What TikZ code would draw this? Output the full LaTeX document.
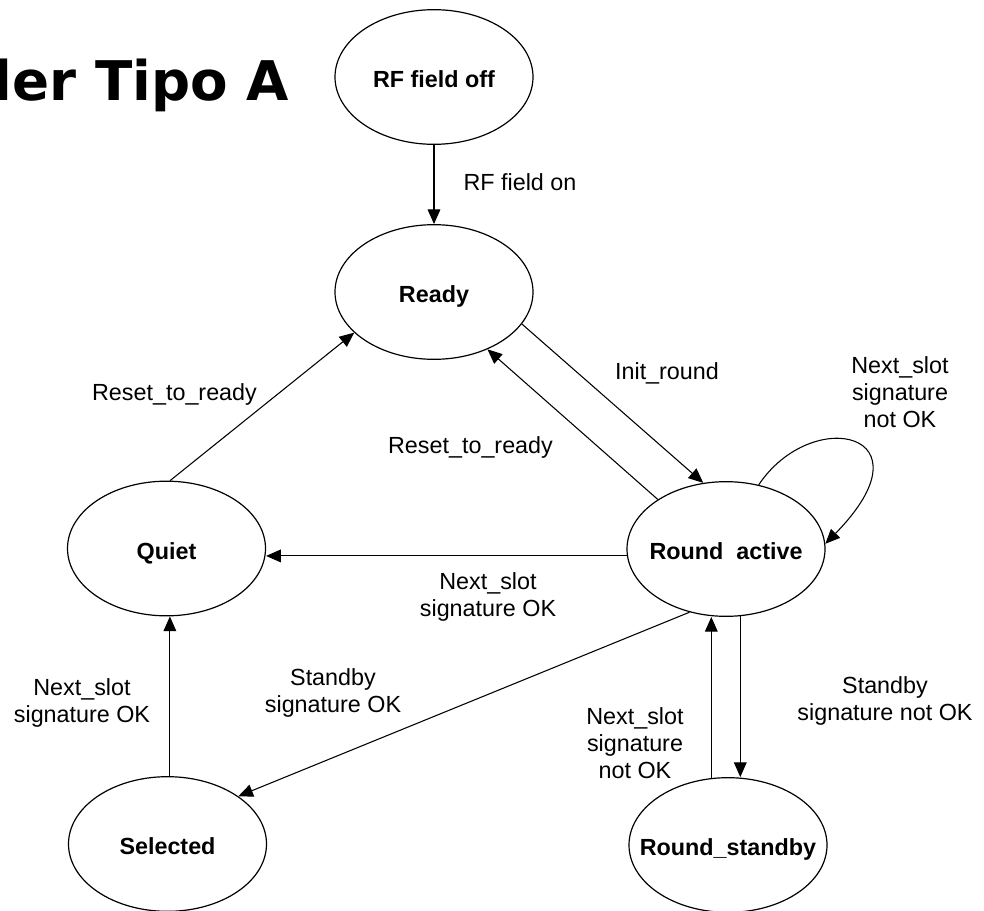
\documentclass[tikz,border=0pt]{standalone}
\usepackage{fontspec}
\setmainfont{Liberation Sans}
\newfontfamily\titlefont{DejaVu Sans}
\usetikzlibrary{arrows.meta,shapes.geometric}
% zero-width box so the ellipse keeps its fixed size
\newcommand\stname[1]{\makebox[0pt]{#1}}

\begin{document}
\begin{tikzpicture}[x=0.75pt,y=-0.75pt,
  state/.style={draw, ellipse, line width=0.9pt, inner sep=0pt,
    minimum width=148.5pt, minimum height=101pt,
    text height=15.75pt, text depth=0pt,
    font=\fontsize{17.5}{20.25}\selectfont\bfseries},
  trans/.style={draw, line width=0.8pt, -{Triangle[length=11pt,width=9.5pt]}},
  lbl/.style={font=\fontsize{17.5}{20.25}\selectfont, align=center, inner sep=0pt},
]
\useasboundingbox (0,0) rectangle (984,910);

% heading
\node[anchor=base west, inner sep=0pt,
      font=\titlefont\fontsize{41}{45}\selectfont\bfseries] (title) at (-7,100) {ler Tipo A};

% states
\node[state] (off)   at (434,77)    {\stname{RF field off}};
\node[state] (ready) at (434,292)   {\stname{Ready}};
\node[state] (quiet) at (166.5,548.5) {\stname{Quiet}};
\node[state] (ra)    at (726,549)   {\stname{Round\ \ active}};
\node[state] (sel)   at (167.5,844) {\stname{Selected}};
\node[state] (rs)    at (728,845)   {\stname{Round\_standby}};

% transitions
\draw[trans] (off.south) -- (ready.north);
\draw[trans] (ready.-20) -- (ra.109);
\draw[trans] (ra.144) -- (ready.-47);
\draw[trans] (quiet.87) -- (ready.207);
\draw[trans] (ra.184) -- (ra.184 -| quiet.east);
\draw[trans] (sel.88) -- (sel.88 |- quiet.south);
\draw[trans] (ra.240) -- (sel.34);
\draw[trans] (rs.104) -- (rs.104 |- ra.south);
\draw[trans] (ra.-78) -- (ra.-78 |- rs.north);
\draw[trans] (ra.63) .. controls (812,405) and (935,432) .. (ra.3);

% transition labels
\node[lbl, anchor=base] (lon)    at (520,190)   {RF field on};
\node[lbl, anchor=base] (linit)  at (667,379)   {Init\_round};
\node[lbl, anchor=base] (lrst1)  at (174.5,400) {Reset\_to\_ready};
\node[lbl, anchor=base] (lrst2)  at (470.5,453) {Reset\_to\_ready};
\node[lbl] (lnsq)   at (488,596.5) {Next\_slot\\signature OK};
\node[lbl] (lloop)  at (900,392.5) {Next\_slot\\signature\\not OK};
\node[lbl] (lselq)  at (82,702.5)  {Next\_slot\\signature OK};
\node[lbl] (lsbok)  at (333,692.5) {Standby\\signature OK};
\node[lbl] (lnsnok) at (635,743.5) {Next\_slot\\signature\\not OK};
\node[lbl] (lsbnok) at (885,700.5) {Standby\\signature not OK};
\end{tikzpicture}
\end{document}
